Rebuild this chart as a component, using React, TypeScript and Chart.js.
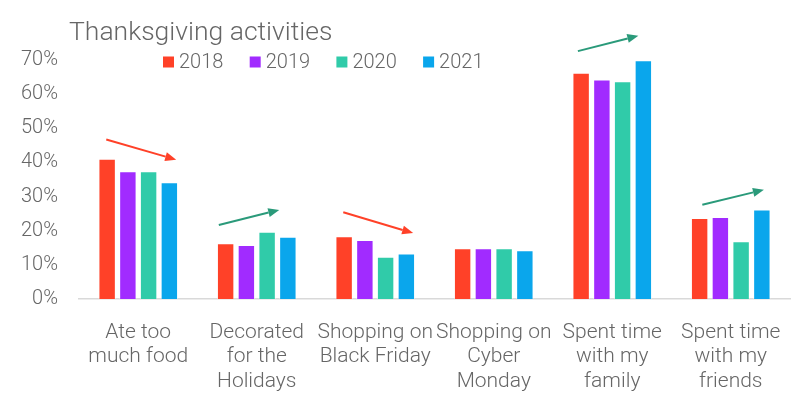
import React, { useEffect, useRef } from "react";
import { Chart, registerables } from "chart.js";

Chart.register(...registerables);

const categories: string[][] = [
  ["Ate too", "much food"],
  ["Decorated", "for the", "Holidays"],
  ["Shopping on", "Black Friday"],
  ["Shopping on", "Cyber", "Monday"],
  ["Spent time", "with my", "family"],
  ["Spent time", "with my", "friends"],
];
const years = ["2018", "2019", "2020", "2021"];
const values2018 = [41.1, 16.3, 18.4, 14.9, 66.3, 23.7];
const values2019 = [37.4, 15.8, 17.3, 14.9, 64.3, 24.0];
const values2020 = [37.4, 19.7, 12.4, 14.9, 63.8, 16.9];
const values2021 = [34.2, 18.2, 13.3, 14.3, 69.9, 26.2];
const yTicks = [0, 10, 20, 30, 40, 50, 60, 70];

// trend arrows: category index, offset within category, value (%)
const arrowCategory = [0, 1, 2, 4, 5];
const arrowFromOffset = [-0.27, -0.32, -0.27, -0.29, -0.24];
const arrowFromValue = [46.7, 21.7, 25.4, 72.6, 27.6];
const arrowToOffset = [0.32, 0.19, 0.32, 0.22, 0.28];
const arrowToValue = [40.8, 26.1, 19.3, 77.1, 32.0];

const seriesColors = ["#FF4128", "#A12BFF", "#30CBA9", "#0AA6EC"];
const upColor = "#2A9A7A";
const downColor = "#FF4128";
const textColor = "#666666";
const FONT = "Roboto";

const title = "Thanksgiving activities";

export default function App() {
  const ref = useRef<HTMLCanvasElement | null>(null);

  useEffect(() => {
    if (!ref.current) return;
    const seriesValues = [values2018, values2019, values2020, values2021];

    const overlay = {
      id: "overlay",
      afterDraw(chart: any) {
        const ctx = chart.ctx as CanvasRenderingContext2D;
        const xs = chart.scales.x;
        const ys = chart.scales.y;
        const area = chart.chartArea;
        const catW = (area.right - area.left) / categories.length;
        ctx.save();
        // title
        ctx.fillStyle = textColor;
        ctx.font = `300 26.5px ${FONT}`;
        ctx.textAlign = "left";
        ctx.textBaseline = "alphabetic";
        ctx.fillText(title, area.left - 10, 40);
        // legend
        ctx.font = `300 20px ${FONT}`;
        ctx.textBaseline = "middle";
        const ly = 62;
        years.forEach((yr, i) => {
          const lx = area.left + 84 + i * 86.7;
          ctx.fillStyle = seriesColors[i];
          ctx.fillRect(lx, ly - 5.5, 11, 11);
          ctx.fillStyle = textColor;
          ctx.fillText(yr, lx + 16, ly + 1);
        });
        // arrows
        arrowCategory.forEach((c, i) => {
          const x0 = xs.getPixelForValue(c) + arrowFromOffset[i] * catW;
          const y0 = ys.getPixelForValue(arrowFromValue[i]);
          const x1 = xs.getPixelForValue(c) + arrowToOffset[i] * catW;
          const y1 = ys.getPixelForValue(arrowToValue[i]);
          const col = arrowToValue[i] > arrowFromValue[i] ? upColor : downColor;
          const ang = Math.atan2(y1 - y0, x1 - x0);
          const headL = 11;
          const headW = 4.5;
          const bx = x1 - headL * Math.cos(ang);
          const by = y1 - headL * Math.sin(ang);
          ctx.strokeStyle = col;
          ctx.fillStyle = col;
          ctx.lineWidth = 2;
          ctx.beginPath();
          ctx.moveTo(x0, y0);
          ctx.lineTo(bx, by);
          ctx.stroke();
          ctx.beginPath();
          ctx.moveTo(x1, y1);
          ctx.lineTo(bx + headW * Math.sin(ang), by - headW * Math.cos(ang));
          ctx.lineTo(bx - headW * Math.sin(ang), by + headW * Math.cos(ang));
          ctx.closePath();
          ctx.fill();
        });
        ctx.restore();
      },
    };

    const chart = new Chart(ref.current, {
      type: "bar",
      data: {
        labels: categories,
        datasets: years.map((yr, i) => ({
          label: yr,
          data: seriesValues[i],
          backgroundColor: seriesColors[i],
          borderColor: "rgba(255,255,255,0.45)",
          borderWidth: 1,
          categoryPercentage: 0.7,
          barPercentage: 0.84,
        })),
      },
      options: {
        responsive: false,
        animation: false,
        layout: { padding: { top: 60, right: 13, left: 0, bottom: 0 } },
        plugins: {
          legend: { display: false },
          title: { display: false },
          tooltip: { enabled: false },
        },
        scales: {
          x: {
            grid: { display: false },
            border: { display: true, color: "#D9D9D9", width: 1.5 },
            ticks: {
              color: textColor,
              font: { family: FONT, size: 21, weight: "300" as any, lineHeight: 1.17 },
              maxRotation: 0,
              minRotation: 0,
              autoSkip: false,
              padding: 13,
            },
            afterFit: (s: any) => {
              s.height = 97;
            },
          },
          y: {
            min: 0,
            max: 70,
            grid: { display: false },
            border: { display: false },
            afterBuildTicks: (s: any) => {
              s.ticks = yTicks.map((v) => ({ value: v }));
            },
            ticks: {
              color: textColor,
              font: { family: FONT, size: 20, weight: "300" as any },
              padding: 13,
              callback: (v: any) => `${v}%`,
            },
            afterFit: (s: any) => {
              s.width = 79;
            },
          },
        },
      },
      plugins: [overlay],
    });
    return () => chart.destroy();
  }, []);

  return (
    <div style={{ position: "fixed", left: 0, top: 0, width: 803, height: 396, background: "#fff" }}>
      <canvas ref={ref} width={803} height={396} style={{ width: 803, height: 396 }} />
    </div>
  );
}
